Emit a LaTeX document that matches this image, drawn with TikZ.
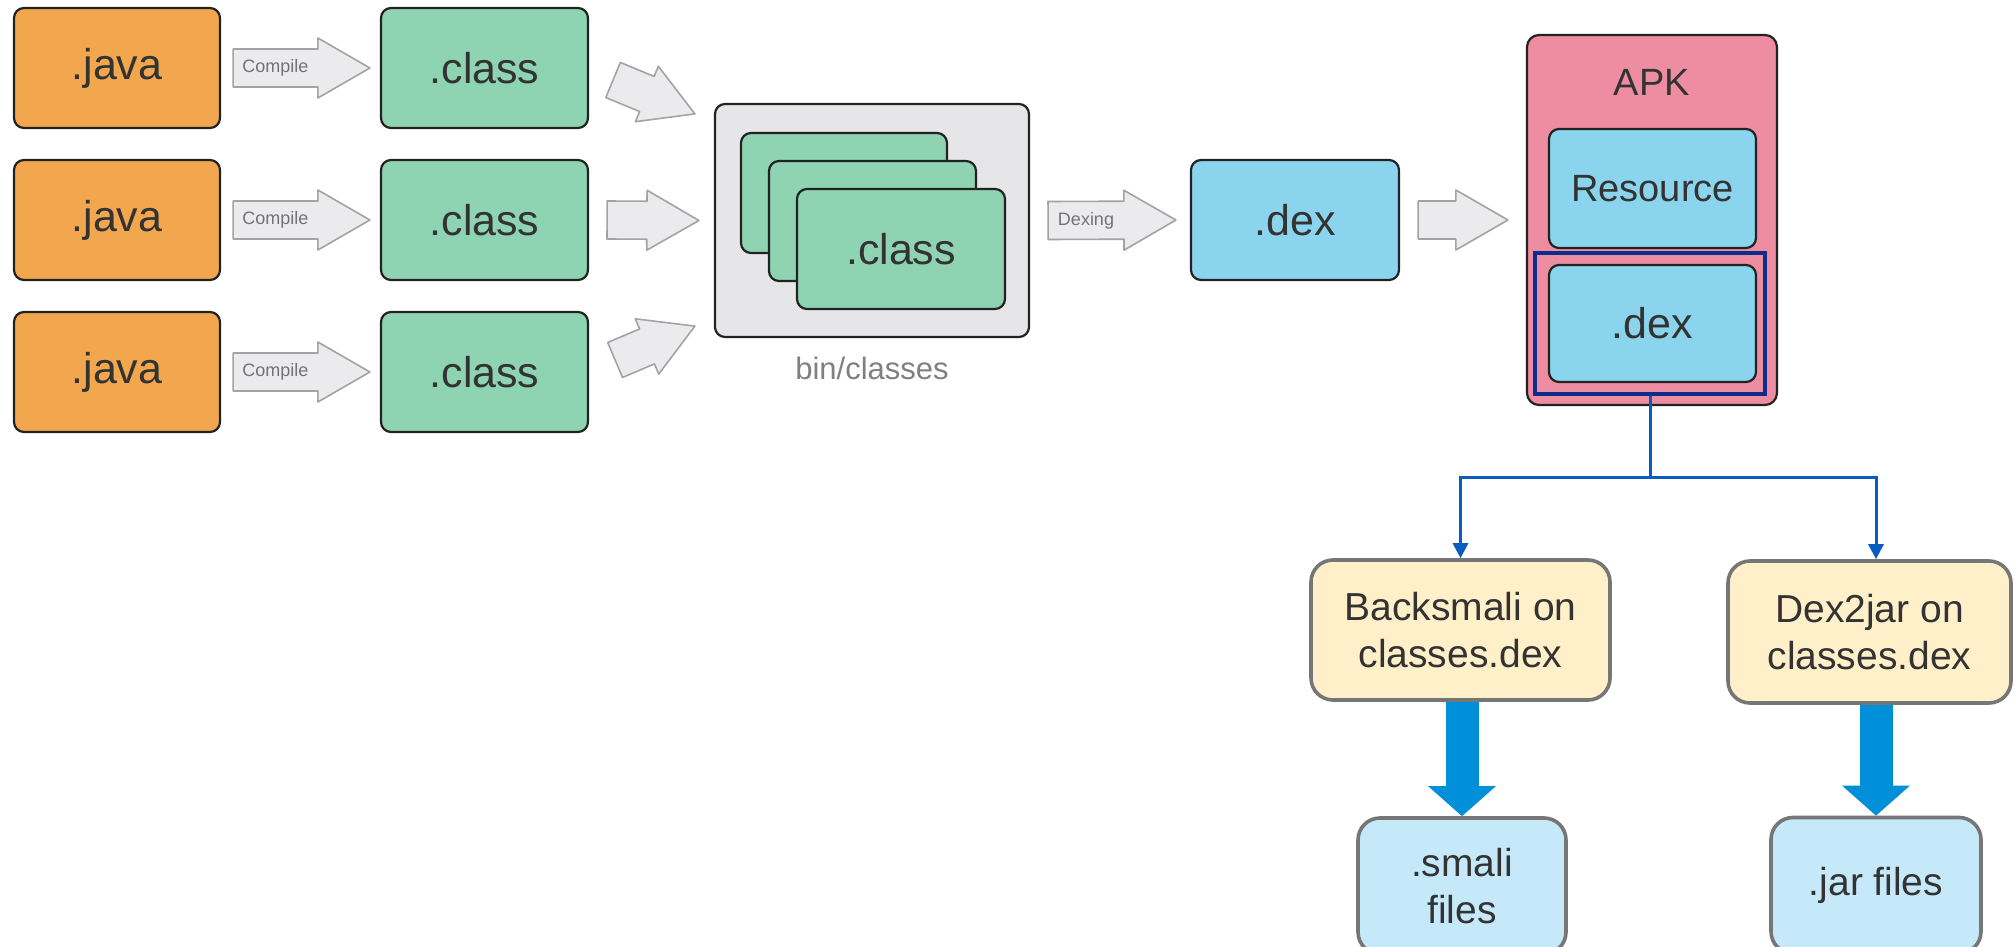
\documentclass[tikz,border=0pt]{standalone}
\usepackage{fontspec}
\setmainfont{Liberation Sans}
\usetikzlibrary{arrows.meta,calc}
\definecolor{javac}{HTML}{F2A64E}
\definecolor{classc}{HTML}{8ED3B2}
\definecolor{dexc}{HTML}{8AD4EE}
\definecolor{apkc}{HTML}{EE8DA2}
\definecolor{binc}{HTML}{E6E6E8}
\definecolor{yelc}{HTML}{FFF0C9}
\definecolor{lbluec}{HTML}{C6E9FA}
\definecolor{thickc}{HTML}{0090D9}
\definecolor{thinc}{HTML}{0A5CBF}
\definecolor{navyc}{HTML}{0B2D8C}
\definecolor{txtc}{HTML}{333333}
\definecolor{lined}{HTML}{222222}
\definecolor{lineg}{HTML}{767676}
\definecolor{arrfill}{HTML}{EBEBED}
\definecolor{arrline}{HTML}{A3A3A3}
\tikzset{
  box/.style={draw=lined, line width=1.1pt, rounded corners=5pt, inner sep=0pt,
    text=txtc, font=\fontsize{21.5}{25}\selectfont, align=center},
  javabox/.style={box, fill=javac, minimum width=103pt, minimum height=60pt},
  classbox/.style={box, fill=classc, minimum width=103.5pt, minimum height=60pt},
  dexbox/.style={box, fill=dexc, minimum width=103.5pt},
  botbox/.style={draw=lineg, line width=1.8pt, rounded corners=11pt, inner sep=0pt,
    text=txtc, font=\fontsize{19.5}{23.5}\selectfont, align=center},
  garrow/.style={draw=arrline, fill=arrfill, line width=0.8pt, line join=round},
  glabel/.style={text=black!55, font=\fontsize{9}{10}\selectfont, inner sep=0pt},
  thinarrow/.style={draw=thinc, line width=1.5pt, -{Triangle[width=7.5pt,length=7.5pt]}},
  thickarrow/.style={draw=thickc, line width=16.5pt, -{Triangle[width=33pt,length=15pt]}}
}
\newcommand\grayarrow[4]{%
  \coordinate (#1t) at (#2);
  \coordinate (#1p) at (#3);
  \coordinate (#1h) at ($(#1p)!26pt!(#1t)$);
  \draw[garrow] ($(#1t)!9.5pt!90:(#1p)$) -- ($(#1h)!9.5pt!90:(#1p)$)
    -- ($(#1h)!15pt!90:(#1p)$) -- (#1p) -- ($(#1h)!15pt!-90:(#1p)$)
    -- ($(#1h)!9.5pt!-90:(#1p)$) -- ($(#1t)!9.5pt!-90:(#1p)$) -- cycle;
  \node[glabel] (#1l) at ($(#1t)!0.5!(#1h)$) {#4};
}
\begin{document}
\begin{tikzpicture}[x=0.5pt,y=-0.5pt]
\useasboundingbox[fill=white] (0,0) rectangle (2014,947);
\clip (0,0) rectangle (2014,947);

% java and class columns
\node[javabox] (java1) at (117,68) {.java};
\node[javabox] (java2) at (117,220) {.java};
\node[javabox] (java3) at (117,372) {.java};
\node[classbox] (class1) at (484.5,68) {.class};
\node[classbox] (class2) at (484.5,220) {.class};
\node[classbox] (class3) at (484.5,372) {.class};

\grayarrow{ca}{$(java1.east)+(12,0)$}{$(class1.west)+(-10,0)$}{Compile}
\grayarrow{cb}{$(java2.east)+(12,0)$}{$(class2.west)+(-10,0)$}{Compile}
\grayarrow{cc}{$(java3.east)+(12,0)$}{$(class3.west)+(-10,0)$}{Compile}

% bin/classes
\node[box, fill=binc, minimum width=157pt, minimum height=116.5pt] (bin) at (872,220.5) {};
\node[classbox, minimum width=103pt] (card1) at (844,193) {};
\node[classbox] (card2) at (872.5,221) {};
\node[classbox, minimum width=104pt] (card3) at (901,249) {.class};
\node[text=black!50, font=\fontsize{15.5}{18}\selectfont, inner sep=0pt] (binlabel) at (872,368) {bin/classes};

\grayarrow{da}{$(class1.east)+(24,12)$}{$(bin.north west)+(-19,11)$}{}
\grayarrow{db}{$(class2.east)+(18,0)$}{$(bin.west)+(-15,0)$}{}
\grayarrow{dc}{$(class3.east)+(26,-12)$}{$(bin.south west)+(-19,-12)$}{}

% dex
\node[dexbox, minimum width=104pt, minimum height=60pt] (dex) at (1295,220) {.dex};
\grayarrow{xa}{$(bin.east)+(18,0)$}{$(dex.west)+(-14,0)$}{Dexing}

% APK
\node[box, fill=apkc, minimum width=125pt, minimum height=185pt, rounded corners=6pt] (apk) at (1652,220) {};
\node[text=txtc, font=\fontsize{19}{23}\selectfont, inner sep=0pt] (apklabel) at (1652,82) {APK};
\grayarrow{xb}{$(dex.east)+(18,0)$}{$(apk.west)+(-18,0)$}{}
\node[dexbox, minimum height=59.5pt, font=\fontsize{19}{23}\selectfont] (res) at (1652.5,188.5) {Resource};
\node[draw=navyc, line width=2.3pt, minimum width=115pt, minimum height=70.5pt, inner sep=0pt] (hl) at (1650,323.5) {};
\node[dexbox, minimum height=58.5pt] (idex) at (1652.5,323.5) {.dex};

% bottom part
\node[botbox, fill=yelc, minimum width=149.5pt, minimum height=70pt] (bsm) at (1460.5,630) {Backsmali on\\classes.dex};
\node[botbox, fill=yelc, minimum width=141.5pt, minimum height=71pt] (d2j) at (1869.5,632) {Dex2jar on\\classes.dex};
\node[botbox, fill=lbluec, minimum width=104pt, minimum height=68pt] (smali) at (1462,886) {.smali\\files};
\node[botbox, fill=lbluec, minimum width=105pt, minimum height=68pt] (jar) at (1876,885.5) {.jar files};

\coordinate (junc) at (1650,477);
\draw[draw=thinc, line width=1.5pt] (hl.south) -- (junc);
\draw[thinarrow] (junc) -| (bsm.north);
\draw[thinarrow] (junc) -| (jar.north |- d2j.north);

\draw[thickarrow] (smali.north |- bsm.south) -- (smali.north);
\draw[thickarrow] (jar.north |- d2j.south) -- (jar.north);
\end{tikzpicture}
\end{document}
